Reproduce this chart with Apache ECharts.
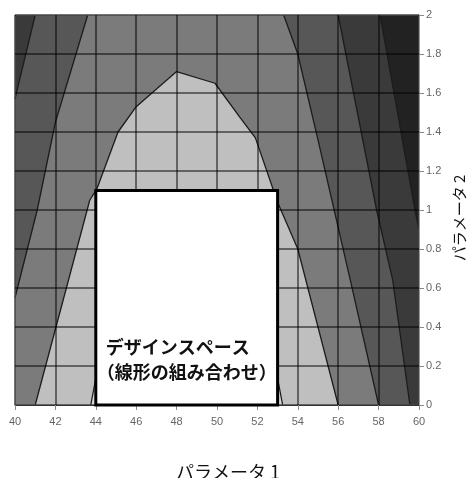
<!DOCTYPE html>
<html>
<head>
<meta charset="utf-8">
<script src="https://cdn.jsdelivr.net/npm/echarts@6.0.0/dist/echarts.min.js"></script>
<style>
html, body { margin: 0; padding: 0; background: #fff; }
#main { width: 471px; height: 478px; }
</style>
</head>
<body>
<div id="main"></div>
<script>
// axis names
var xName = 'パラメータ 1';
var yName = 'パラメータ 2';

// contour lines, [パラメータ1, パラメータ2]
var contourA = [[41.0, 2], [40, 1.57]];
var contourB = [[43.6, 2], [42.0, 1.45], [41.1, 1.0], [40, 0.55]];
var contourC = [[41.0, 0], [43.7, 1.05], [44.06, 1.11], [45.1, 1.4], [46.0, 1.53], [48.0, 1.71],
                [49.9, 1.65], [51.1, 1.48], [51.9, 1.37], [53.0, 1.04], [54.0, 0.8], [56.0, 0]];
var contourD = [[53.3, 2], [54.0, 1.8], [55.0, 1.36], [56.6, 0.64], [58.0, 0]];
var contourE = [[56.0, 2], [57.9, 1.0], [58.7, 0.64], [59.55, 0]];
var contourF = [[58.07, 2], [59.8, 1.0], [60, 0.9]];
var contourG = [[43.75, 0], [44.3, 0.3], [52.7, 0.3], [53.25, 0]];

// design space box [xmin, xmax, ymin, ymax] and its label
var designBox = [44, 53, 0, 1.1];
var designText = ['デザインスペース', '（線形の組み合わせ）'];

var bandColors = ['#222222', '#3a3a3a', '#575757', '#7b7b7b', '#bfbfbf', '#d8d8d8'];

// regions above each level (painted dark to light)
var bands = [
  [[40, 0], [40, 2], [60, 2], [60, 0]],
  [[40, 0], [40, 2]].concat(contourF, [[60, 0]]),
  contourA.concat([[40, 0]], contourE.slice().reverse()),
  contourB.concat([[40, 0]], contourD.slice().reverse()),
  contourC,
  contourG
];
var contours = [contourA, contourB, contourC, contourD, contourE, contourF, contourG];

var chart = echarts.init(document.getElementById('main'));

var series = [];
series.push({
  type: 'custom',
  z: -2,
  silent: true,
  animation: false,
  data: bands.map(function (b, i) { return [i]; }),
  renderItem: function (params, api) {
    var i = api.value(0);
    var pts = bands[i].map(function (p) { return api.coord(p); });
    return { type: 'polygon', shape: { points: pts }, style: { fill: bandColors[i] } };
  }
});
contours.forEach(function (c) {
  series.push({
    type: 'line',
    z: -1,
    silent: true,
    animation: false,
    symbol: 'none',
    data: c,
    lineStyle: { color: '#1c1c1c', width: 1.3 }
  });
});
series.push({
  type: 'custom',
  z: 5,
  silent: true,
  animation: false,
  data: [designBox],
  renderItem: function (params, api) {
    var tl = api.coord([api.value(0), api.value(3)]);
    var br = api.coord([api.value(1), api.value(2)]);
    var font = 'bold 18px "Noto Sans CJK JP"';
    return {
      type: 'group',
      children: [
        { type: 'rect', shape: { x: tl[0], y: tl[1], width: br[0] - tl[0], height: br[1] - tl[1] },
          style: { fill: '#fff', stroke: '#000', lineWidth: 3 } },
        { type: 'text', style: { text: designText[0], x: tl[0] + 10, y: br[1] - 58, font: font,
          fill: '#111', align: 'left', verticalAlign: 'middle' } },
        { type: 'text', style: { text: designText[1], x: tl[0] + 1, y: br[1] - 33, font: font,
          fill: '#111', align: 'left', verticalAlign: 'middle' } }
      ]
    };
  }
});

var option = {
  animation: false,
  grid: { left: 15, right: 52, top: 15, bottom: 73, outerBoundsMode: 'none', containLabel: false,
          show: true, borderColor: '#c8c8c8', borderWidth: 1 },
  xAxis: {
    type: 'value', min: 40, max: 60, interval: 2,
    name: xName, nameLocation: 'middle', nameGap: 58,
    nameTextStyle: { fontSize: 18, color: '#111', fontFamily: 'Noto Sans CJK JP', padding: [0, 0, 0, 22] },
    axisLine: { show: true, lineStyle: { color: '#333', width: 1 } },
    axisTick: { show: true, length: 5, lineStyle: { color: '#888' } },
    axisLabel: { color: '#666', fontSize: 11, fontFamily: 'Liberation Sans', margin: 11 },
    splitLine: { show: true, lineStyle: { color: 'rgba(0,0,0,0.65)', width: 1.5 } }
  },
  yAxis: {
    type: 'value', position: 'right', min: 0, max: 2, interval: 0.2,
    name: yName, nameLocation: 'middle', nameGap: 27,
    nameTextStyle: { fontSize: 15, color: '#111', fontFamily: 'Noto Sans CJK JP', padding: [0, 16, 0, 0] },
    axisLine: { show: true, lineStyle: { color: '#999', width: 1 } },
    axisTick: { show: true, length: 5, lineStyle: { color: '#888' } },
    axisLabel: { color: '#666', fontSize: 11, fontFamily: 'Liberation Sans', margin: 7 },
    splitLine: { show: true, lineStyle: { color: 'rgba(0,0,0,0.65)', width: 1.5 } }
  },
  series: series
};

option && chart.setOption(option);
</script>
</body>
</html>
